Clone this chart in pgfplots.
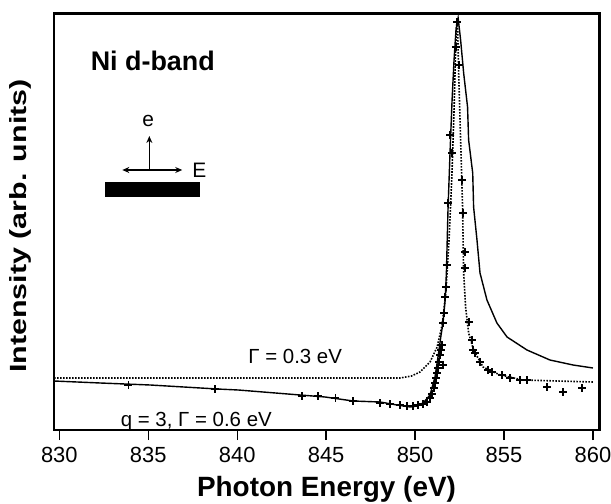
\documentclass[border=0pt]{standalone}
\usepackage{fontspec}
\setmainfont{Liberation Sans}
\usepackage{graphicx}
\usepackage{pgfplots}
\pgfplotsset{compat=1.18}
\usepackage{pgfplotstable}
\usetikzlibrary{arrows.meta}

\pgfplotstableread{
x y
829.70 52
832.30 50
835.11 48
838.88 44
840.06 43
843.54 38
844.94 36
846.52 32
848.03 31
848.99 28
849.72 26
850.10 27
850.45 30
850.84 38
851.12 56
851.29 76
851.46 98
851.57 110
851.69 133
851.76 160
851.85 223
851.97 283
852.08 333
852.19 373
852.30 403
852.42 415
852.56 393
852.73 360
852.95 326
853.01 293
853.24 260
853.29 226
853.48 193
853.65 160
854.04 133
854.60 110
855.17 96
856.29 83
857.58 73
858.88 68
860.00 65
}\fanotable

\pgfplotstableread{
x y
829.70 55
840.00 55
848.03 55
849.16 55
849.80 57
850.28 61
850.84 71
851.24 86
851.52 108
851.74 143
851.91 193
852.08 263
852.19 323
852.28 383
852.34 410
852.38 415
852.45 360
852.56 293
852.67 226
852.73 160
852.84 126
853.01 100
853.29 83
853.82 66
854.78 58
856.07 53
858.00 52
860.00 51
}\lortable

\pgfplotstableread{
x y
833.88 48
838.76 44
843.65 37
844.55 37
845.51 35
846.52 32
848.03 30
848.60 29
849.16 28
849.55 27
849.89 27
850.17 28
850.45 29
850.67 31
850.84 35
850.96 39
851.07 45
851.12 50
851.18 55
851.24 60
851.29 65
851.35 71
851.40 78
851.46 83
851.52 88
851.57 68
851.57 110
851.63 120
851.69 136
851.74 146
851.80 168
851.85 230
851.97 298
852.08 280
852.36 411
852.30 386
852.47 368
852.64 253
852.70 220
852.81 181
852.81 165
853.03 111
853.20 93
853.26 83
853.37 80
853.65 71
854.10 63
854.33 61
854.89 58
855.33 55
855.90 53
856.29 53
857.42 46
858.32 41
859.39 45
}\datatable

\begin{document}
\begin{tikzpicture}
\path[use as bounding box] (-54bp,-74bp) rectangle (557bp,430bp);
\begin{axis}[
  name=ax,
  at={(0,0)}, anchor=south west,
  scale only axis, width=545bp, height=416bp,
  xmin=829.70, xmax=860.34, ymin=3, ymax=419,
  axis line style={line width=1.6bp},
  xtick={830,835,840,845,850,855,860}, ytick=\empty,
  xtick pos=bottom, tick align=outside,
  major tick length=10bp,
  every tick/.style={black, line width=1.3bp},
  /pgf/number format/assume math mode=true,
  /pgf/number format/1000 sep={},
  xticklabel style={font=\fontsize{22}{22}\selectfont, yshift=-4bp},
  xlabel={Photon Energy (eV)},
  xlabel style={font=\fontsize{28}{28}\selectfont\bfseries, at={(axis description cs:0.5,0)}, anchor=base, yshift=-66bp},
  ylabel={\scalebox{1.3}[1.0]{Intensity (arb. units)}},
  ylabel style={font=\fontsize{23.5}{23.5}\selectfont\bfseries, at={(axis description cs:-0.0624,0.49)}, anchor=center},
]
\addplot[black, line width=1.4bp] table[x=x,y=y] {\fanotable};
\addplot[black, line width=1.6bp, dash pattern=on 1.6bp off 1.4bp] table[x=x,y=y] {\lortable};
\addplot[only marks, mark=+, mark size=4bp, black, mark options={line width=1.4bp}] table[x=x,y=y] {\datatable};

\node[anchor=base west, font=\fontsize{27}{27}\selectfont\bfseries] at (axis cs:831.57,362) {Ni d-band};
\node[anchor=base, font=\fontsize{20.5}{20.5}\selectfont] at (axis cs:843.26,70) {Γ = 0.3 eV};
\node[anchor=base, font=\fontsize{20.5}{20.5}\selectfont] at (axis cs:837.7,7) {q = 3, Γ = 0.6 eV};
\fill[black] (axis cs:832.58,236) rectangle (axis cs:837.92,251);
\draw[black, line width=1.4bp, -{Stealth[length=7bp,width=6bp]}] (axis cs:835.06,263) -- (axis cs:835.06,297);
\draw[black, line width=1.4bp, {Stealth[length=7bp,width=6bp]}-{Stealth[length=7bp,width=6bp]}] (axis cs:833.54,263) -- (axis cs:836.91,263);
\node[font=\fontsize{21}{21}\selectfont] at (axis cs:835.0,312) {e};
\node[anchor=west, inner sep=0pt, font=\fontsize{21}{21}\selectfont] at (axis cs:837.47,263) {E};
\end{axis}
\fill[black] (-1bp,415bp) rectangle (546bp,417.5bp);
\fill[black] (544bp,-1bp) rectangle (546.5bp,417.5bp);
\fill[black] (-1bp,-1bp) rectangle (1bp,417bp);
\end{tikzpicture}
\end{document}
